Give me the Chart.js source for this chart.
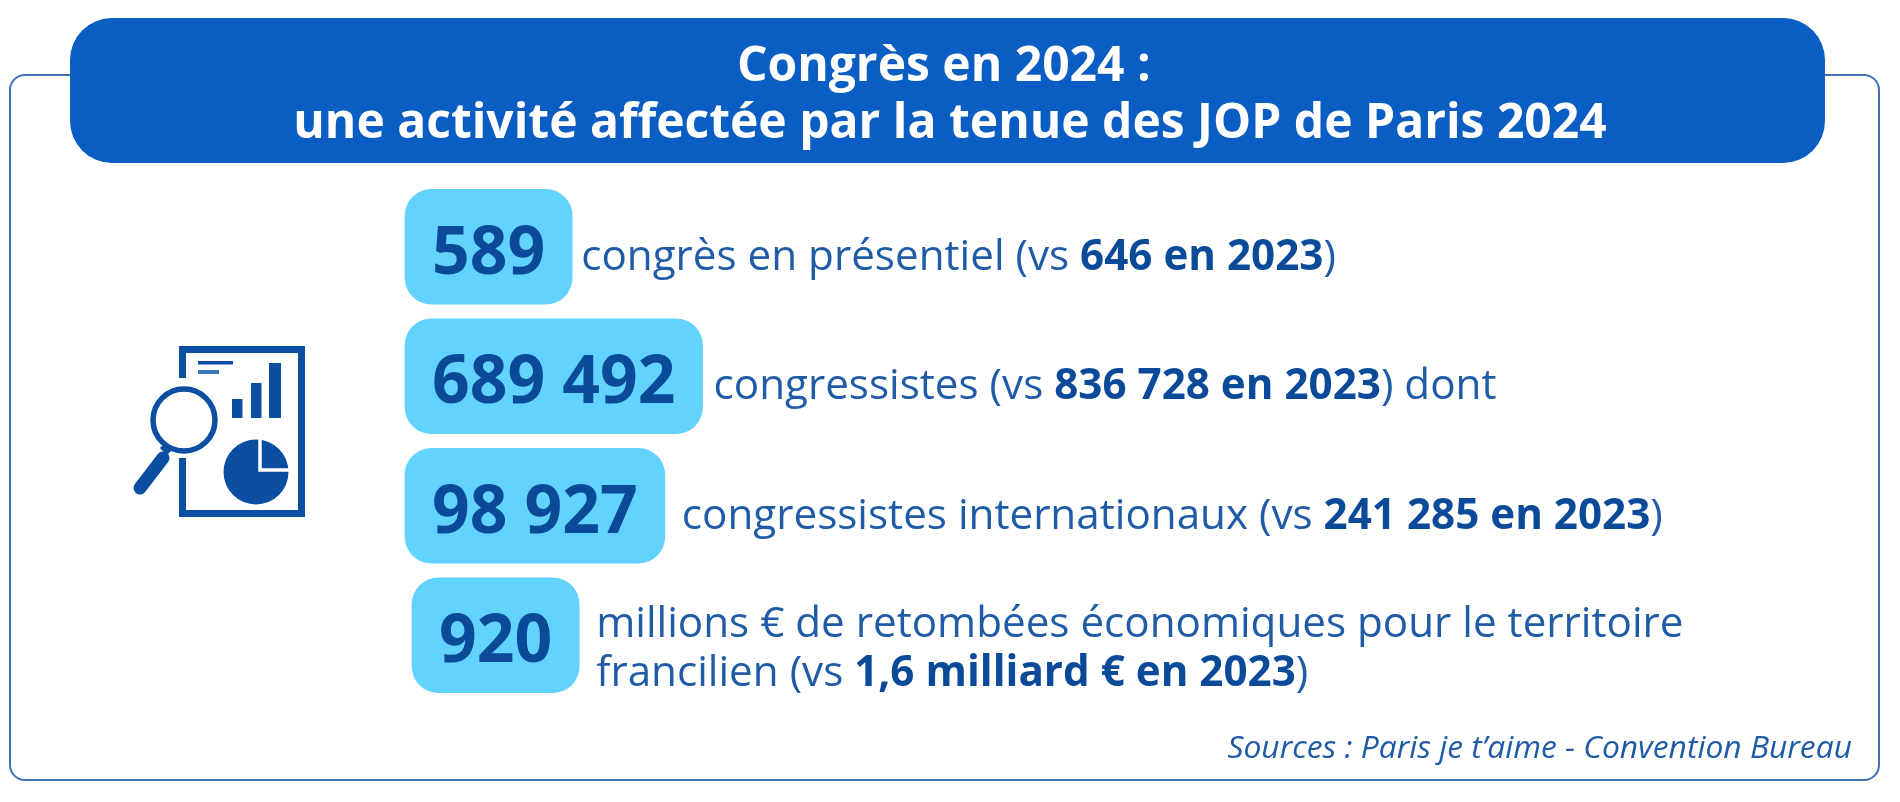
<!DOCTYPE html>
<html lang="fr">
<head>
<meta charset="utf-8">
<title>Congrès en 2024</title>
<script src="https://cdn.jsdelivr.net/npm/chart.js@4/dist/chart.umd.min.js"></script>
<style>
html,body{margin:0;padding:0;background:#fff;width:1900px;height:802px;overflow:hidden}
#wrap{position:relative;width:1900px;height:802px}
#c{position:absolute;left:0;top:0}
#icon{position:absolute;left:0;top:0}
</style>
</head>
<body>
<div id="wrap">
<canvas id="c" width="1900" height="802"></canvas>
<svg id="icon" width="1900" height="802" viewBox="0 0 1900 802">
  <g fill="#0b4ea2" stroke="none">
    <path d="M179 378V346H305V517H179V458H186V510H298V353H186V378Z"/>
    <rect x="198" y="361" width="35" height="3.500"/>
    <rect x="198" y="370" width="21" height="4" fill="#3f78b8"/>
    <rect x="232" y="399" width="10.500" height="19"/>
    <rect x="251" y="383" width="10.500" height="35"/>
    <rect x="269" y="363" width="12" height="55"/>
    <circle cx="256" cy="472" r="32.500"/>
  </g>
  <path d="M260 438V470H290" fill="none" stroke="#fff" stroke-width="3.500"/>
  <circle cx="184" cy="420" r="31" fill="#fff" stroke="#0b4ea2" stroke-width="5.500"/>
  <path d="M162 446L169 453" stroke="#0b4ea2" stroke-width="6"/>
  <path d="M163 458L140 488" stroke="#0b4ea2" stroke-width="13" stroke-linecap="round"/>
</svg>
</div>
<script>
// ---- data ----
const titleLines = ["Congrès en 2024 :\u00A0", "une activité affectée par la tenue des JOP de Paris 2024"];
const kpiValues = ["589", "689 492", "98 927", "920"];
const descBefore = [
  ["congrès en présentiel (vs "],
  ["congressistes (vs "],
  ["congressistes internationaux (vs "],
  ["millions € de retombées économiques pour le territoire", "francilien (vs "]
];
const compareValues = ["646 en 2023", "836 728 en 2023", "241 285 en 2023", "1,6 milliard € en 2023"];
const descAfter = [")", ") dont", ")", ")"];
const sourceText = "Sources : Paris je t’aime - Convention Bureau";

// ---- layout and style ----
const FONT = '"Open Sans", sans-serif';
const numFont = `700 66px ${FONT}`;
const txtFont = `400 42.2px ${FONT}`;
const boldFont = `700 42.2px ${FONT}`;
const pillStart = [405, 405, 405, 412];
const pillPad = 27;
const descGap = [9, 11, 17, 17];
const NAVY = '#0b4a99', TXT = '#1f5ba6';

const measure = document.createElement('canvas').getContext('2d');
measure.font = numFont;
const pillSpans = kpiValues.map((v, i) => [pillStart[i], pillStart[i] + measure.measureText(v).width + pillPad * 2]);

function rr(ctx, x, y, w, h, r) {
  ctx.beginPath();
  ctx.roundRect(x, y, w, h, r);
}

const infographic = {
  id: 'infographic',
  beforeDraw(chart) {
    const ctx = chart.ctx;
    ctx.save();
    ctx.fillStyle = '#fff';
    ctx.fillRect(0, 0, chart.width, chart.height);
    ctx.strokeStyle = '#3f72b2';
    ctx.lineWidth = 2;
    rr(ctx, 10, 75, 1869, 705, 15);
    ctx.stroke();
    ctx.fillStyle = '#0a5dc2';
    rr(ctx, 70, 18, 1755, 145, 42);
    ctx.fill();
    ctx.restore();
  },
  afterDatasetsDraw(chart) {
    const ctx = chart.ctx;
    const bars = chart.getDatasetMeta(0).data;
    ctx.save();
    ctx.textBaseline = 'alphabetic';
    bars.forEach((bar, i) => {
      const cy = bar.y;
      ctx.textAlign = 'center';
      ctx.font = numFont;
      ctx.fillStyle = NAVY;
      ctx.fillText(kpiValues[i], (bar.base + bar.x) / 2, cy + 27);
      ctx.textAlign = 'left';
      const lines = descBefore[i];
      const x0 = bar.x + descGap[i];
      const two = lines.length > 1;
      let y = two ? cy + 2 : cy + 23;
      if (two) {
        ctx.font = txtFont; ctx.fillStyle = TXT;
        ctx.fillText(lines[0], x0, y);
        y += 49;
      }
      let x = x0;
      const last = lines[lines.length - 1];
      ctx.font = txtFont; ctx.fillStyle = TXT;
      ctx.fillText(last, x, y); x += ctx.measureText(last).width;
      ctx.font = boldFont; ctx.fillStyle = NAVY;
      ctx.fillText(compareValues[i], x, y); x += ctx.measureText(compareValues[i]).width;
      ctx.font = txtFont; ctx.fillStyle = TXT;
      ctx.fillText(descAfter[i], x, y);
    });
    ctx.font = `italic 400 31.8px ${FONT}`;
    ctx.fillStyle = TXT;
    ctx.textAlign = 'right';
    ctx.fillText(sourceText, 1852, 758);
    ctx.restore();
  }
};

new Chart(document.getElementById('c'), {
  type: 'bar',
  data: {
    labels: kpiValues,
    datasets: [{
      data: pillSpans,
      backgroundColor: '#62d2ff',
      borderRadius: 27,
      borderSkipped: false,
      barThickness: 115
    }]
  },
  options: {
    indexAxis: 'y',
    responsive: false,
    animation: false,
    devicePixelRatio: 1,
    layout: { padding: { top: 0, bottom: 102, left: 0, right: 0 } },
    scales: {
      x: { type: 'linear', min: 0, max: 1900, display: false },
      y: { type: 'category', display: false }
    },
    plugins: {
      legend: { display: false },
      tooltip: { enabled: false },
      title: {
        display: true,
        text: titleLines,
        color: '#ffffff',
        font: { family: FONT, size: 48, weight: '700', lineHeight: 1.1875 },
        padding: { top: 39, bottom: 29 }
      }
    }
  },
  plugins: [infographic]
});
</script>
</body>
</html>
